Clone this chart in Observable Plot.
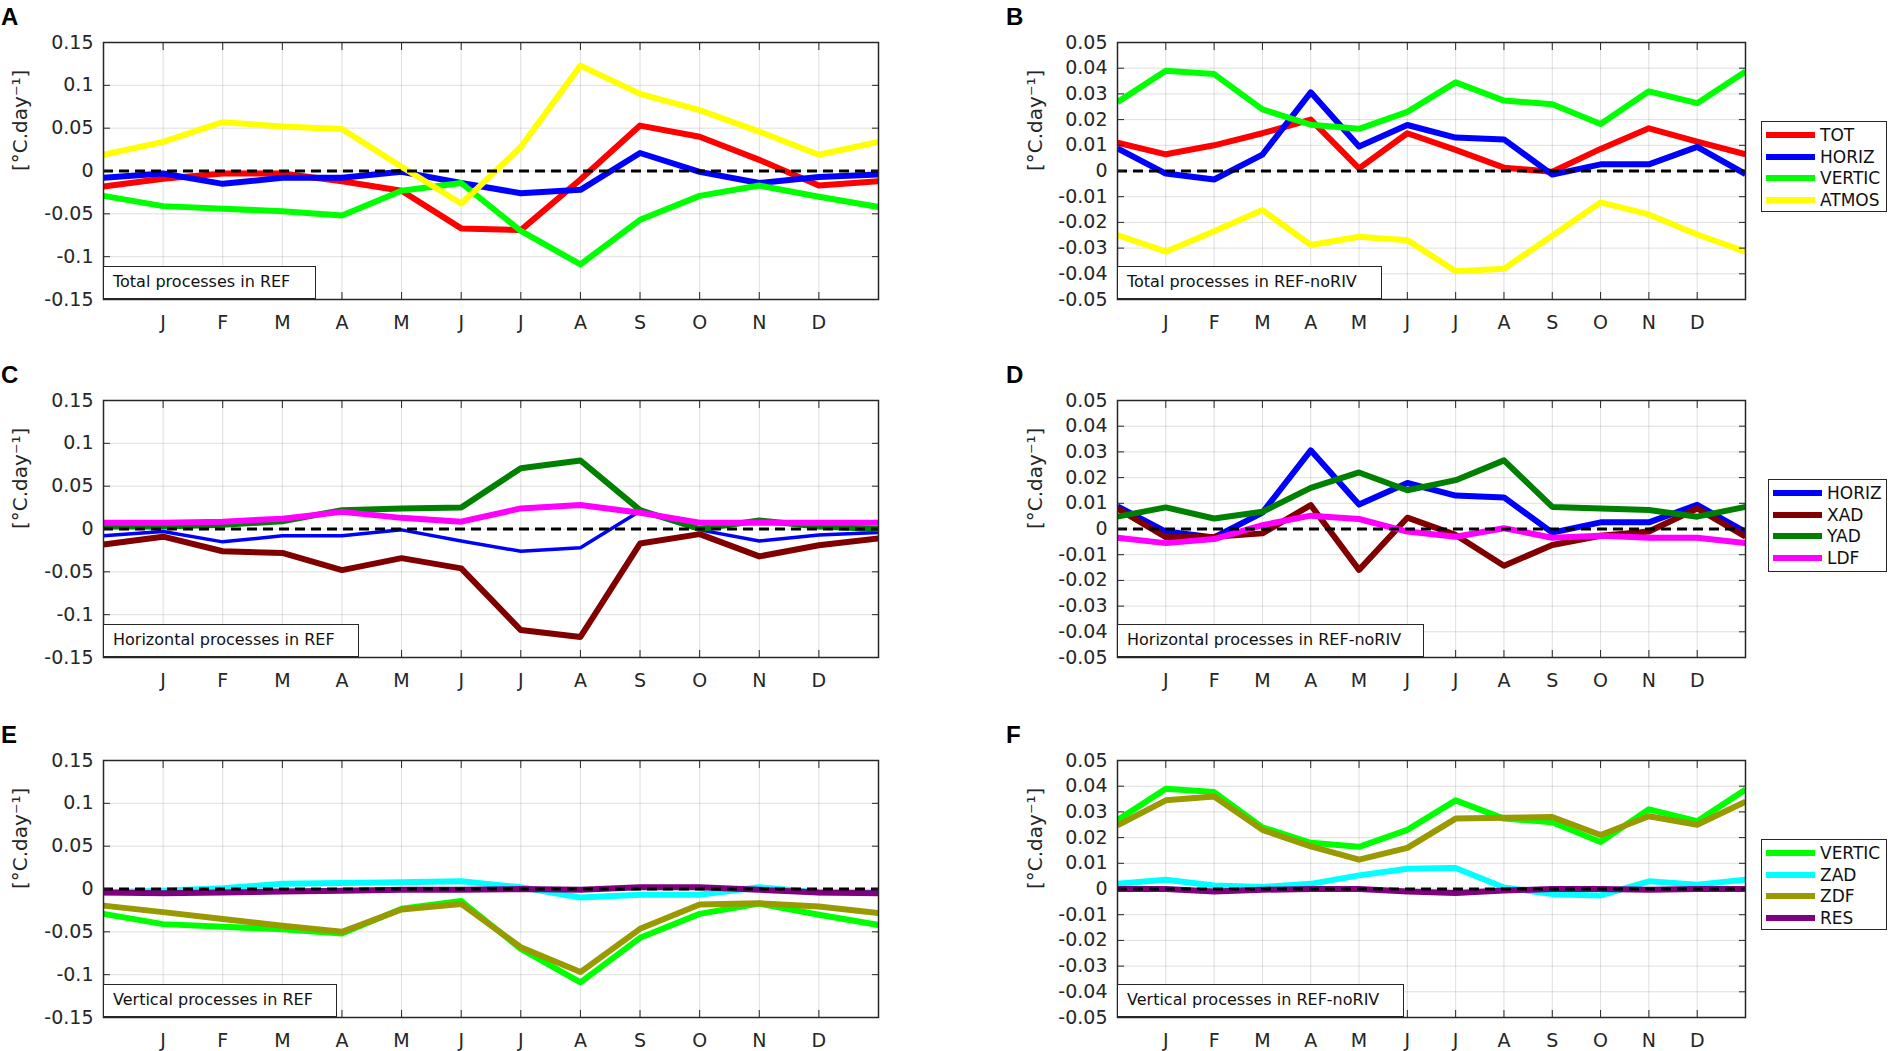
<!DOCTYPE html>
<html><head><meta charset="utf-8">
<script src="https://cdn.jsdelivr.net/npm/d3@7"></script>
<script src="https://cdn.jsdelivr.net/npm/@observablehq/plot@0.6"></script>
<style>
body{margin:0;background:#fff;width:1890px;height:1051px;overflow:hidden;position:relative;font-family:"DejaVu Sans",sans-serif;}
.pan{position:absolute;}
.letter{position:absolute;font:bold 24px "Liberation Sans",Arial,sans-serif;line-height:24px;color:#000;}
.tag{position:absolute;box-sizing:border-box;height:33px;border:1.5px solid #262626;background:#fff;font-size:16px;line-height:30px;padding-left:9px;color:#111;white-space:nowrap;overflow:hidden;}
.legend{position:absolute;box-sizing:border-box;border:1.5px solid #262626;background:#fff;padding:2px 0 0 4px;}
.row{height:21.7px;display:flex;align-items:center;font-size:17px;color:#111;white-space:nowrap;}
.sw{width:49px;height:6px;margin-right:5px;flex:none;}
</style></head><body>
<script>
// ---- axes / categories ----
const xPos = [0, 1, 2, 3, 4, 5, 6, 7, 8, 9, 10, 11, 12, 13];
const monthTicks = [1, 2, 3, 4, 5, 6, 7, 8, 9, 10, 11, 12];
const monthLabels = ["J", "F", "M", "A", "M", "J", "J", "A", "S", "O", "N", "D"];
const yTicksREF = [-0.15, -0.1, -0.05, 0, 0.05, 0.1, 0.15];
const yTicksNoRIV = [-0.05, -0.04, -0.03, -0.02, -0.01, 0, 0.01, 0.02, 0.03, 0.04, 0.05];
const yLabel = "[°C.day⁻¹]";

// ---- REF series ----
const TOT_REF    = [-0.018, -0.009, -0.003, -0.003, -0.012, -0.023, -0.067, -0.069, -0.010, 0.053, 0.040, 0.013, -0.017, -0.012];
const HORIZ_REF  = [-0.008, -0.003, -0.015, -0.008, -0.008, -0.001, -0.014, -0.026, -0.022, 0.021, -0.001, -0.014, -0.007, -0.004];
const VERTIC_REF = [-0.029, -0.041, -0.044, -0.047, -0.052, -0.023, -0.014, -0.070, -0.109, -0.057, -0.029, -0.017, -0.030, -0.042];
const ATMOS_REF  = [0.019, 0.034, 0.057, 0.052, 0.049, 0.005, -0.038, 0.028, 0.123, 0.090, 0.071, 0.046, 0.019, 0.034];
const XAD_REF    = [-0.018, -0.009, -0.026, -0.028, -0.048, -0.034, -0.046, -0.118, -0.126, -0.017, -0.006, -0.032, -0.019, -0.011];
const YAD_REF    = [0.003, 0.003, 0.005, 0.009, 0.022, 0.024, 0.025, 0.071, 0.080, 0.022, 0.000, 0.010, 0.003, 0.000];
const LDF_REF    = [0.0074, 0.0074, 0.0086, 0.012, 0.020, 0.013, 0.0086, 0.024, 0.028, 0.019, 0.0074, 0.0074, 0.0074, 0.0074];
const ZAD_REF    = [-0.004, -0.002, 0.001, 0.006, 0.007, 0.008, 0.009, 0.002, -0.010, -0.0066, -0.0066, 0.002, -0.004, -0.004];
const ZDF_REF    = [-0.0194, -0.027, -0.035, -0.043, -0.050, -0.024, -0.0174, -0.068, -0.097, -0.0465, -0.018, -0.0167, -0.0205, -0.028];
const RES_REF    = [-0.004, -0.005, -0.004, -0.003, -0.002, -0.001, -0.001, 0.000, -0.001, 0.002, 0.002, -0.001, -0.004, -0.005];

// ---- REF-noRIV series ----
const TOT_NR    = [0.011, 0.0065, 0.010, 0.0147, 0.020, 0.001, 0.0147, 0.0082, 0.0013, -0.0003, 0.0086, 0.0166, 0.0114, 0.0065];
const HORIZ_NR  = [0.0088, -0.001, -0.0033, 0.0064, 0.0306, 0.0095, 0.0179, 0.013, 0.0123, -0.0014, 0.0026, 0.0026, 0.0094, -0.0012];
const VERTIC_NR = [0.0268, 0.039, 0.0377, 0.024, 0.018, 0.0164, 0.023, 0.0345, 0.0274, 0.026, 0.0183, 0.031, 0.0264, 0.0387];
const ATMOS_NR  = [-0.0249, -0.0314, -0.0234, -0.0152, -0.0288, -0.0256, -0.0269, -0.039, -0.038, -0.0252, -0.0122, -0.0169, -0.0247, -0.0314];
const XAD_NR    = [0.008, -0.0032, -0.003, -0.0017, 0.0093, -0.0159, 0.0044, -0.0023, -0.0143, -0.0062, -0.0026, -0.001, 0.008, -0.003];
const YAD_NR    = [0.0048, 0.0084, 0.0041, 0.0067, 0.016, 0.022, 0.0151, 0.019, 0.0267, 0.0086, 0.008, 0.0074, 0.0048, 0.0086];
const LDF_NR    = [-0.0034, -0.0055, -0.0039, 0.0015, 0.0052, 0.0039, -0.001, -0.003, 0.0003, -0.0034, -0.0026, -0.0034, -0.0034, -0.0055];
const ZAD_NR    = [0.002, 0.0036, 0.0014, 0.0008, 0.002, 0.0053, 0.0079, 0.0082, 0.0006, -0.002, -0.0025, 0.003, 0.0017, 0.0036];
const ZDF_NR    = [0.0248, 0.0345, 0.036, 0.023, 0.0166, 0.0114, 0.016, 0.0274, 0.0277, 0.028, 0.021, 0.0283, 0.025, 0.034];
const RES_NR    = [0.000, 0.000, -0.001, -0.0003, 0.000, 0.000, -0.001, -0.0016, -0.0006, 0.000, 0.000, -0.0003, 0.000, 0.000];

const colors = {TOT: "#ff0000", HORIZ: "#0000ff", VERTIC: "#00ff00", ATMOS: "#ffff00",
  XAD: "#800000", YAD: "#008000", LDF: "#ff00ff", ZAD: "#00ffff", ZDF: "#999900", RES: "#800080"};

const panels = [
  {letter: "A", col: 0, row: 0, ticks: yTicksREF, tag: "Total processes in REF", tagW: 213,
   series: [["TOT", TOT_REF], ["HORIZ", HORIZ_REF], ["VERTIC", VERTIC_REF], ["ATMOS", ATMOS_REF]]},
  {letter: "B", col: 1, row: 0, ticks: yTicksNoRIV, tag: "Total processes in REF-noRIV", tagW: 265,
   series: [["TOT", TOT_NR], ["HORIZ", HORIZ_NR], ["VERTIC", VERTIC_NR], ["ATMOS", ATMOS_NR]],
   legend: {left: 1761, top: 121, w: 126, h: 91}},
  {letter: "C", col: 0, row: 1, ticks: yTicksREF, tag: "Horizontal processes in REF", tagW: 256,
   series: [["HORIZ", HORIZ_REF, 3.5], ["XAD", XAD_REF], ["YAD", YAD_REF], ["LDF", LDF_REF]]},
  {letter: "D", col: 1, row: 1, ticks: yTicksNoRIV, tag: "Horizontal processes in REF-noRIV", tagW: 307,
   series: [["HORIZ", HORIZ_NR], ["XAD", XAD_NR], ["YAD", YAD_NR], ["LDF", LDF_NR]],
   legend: {left: 1768, top: 479, w: 119, h: 93}},
  {letter: "E", col: 0, row: 2, ticks: yTicksREF, tag: "Vertical processes in REF", tagW: 234,
   series: [["VERTIC", VERTIC_REF], ["ZAD", ZAD_REF], ["ZDF", ZDF_REF], ["RES", RES_REF]]},
  {letter: "F", col: 1, row: 2, ticks: yTicksNoRIV, tag: "Vertical processes in REF-noRIV", tagW: 287,
   series: [["VERTIC", VERTIC_NR], ["ZAD", ZAD_NR], ["ZDF", ZDF_NR], ["RES", RES_NR]],
   legend: {left: 1761, top: 839, w: 126, h: 91}}
];

// ---- layout ----
const colX = [0, 1005], svgW = [890, 750], mL = [103, 112], mR = [12, 10];
const rowY = [0, 358, 718], H = 336, mT = 42, mB = 37;
const ylabDx = [-83, -82];
const ink = "#262626";

for (const p of panels) {
  const c = p.col, r = p.row;
  const marks = [
    Plot.gridX(monthTicks, {stroke: "#000", strokeOpacity: 0.13}),
    Plot.gridY(p.ticks, {stroke: "#000", strokeOpacity: 0.13})
  ];
  for (const [name, vals, sw] of p.series) {
    const rows = xPos.map((x, i) => ({x, v: vals[i]}));
    marks.push(Plot.line(rows, {x: "x", y: "v", stroke: colors[name], strokeWidth: sw || 6,
      strokeLinejoin: "round", strokeLinecap: "butt", clip: true}));
  }
  marks.push(
    Plot.ruleY([0], {stroke: "#000", strokeWidth: 3, strokeDasharray: "10,6"}),
    Plot.axisX({anchor: "bottom", ticks: monthTicks, tickSize: -7, tickPadding: 23,
      tickFormat: d => monthLabels[d - 1], stroke: ink, fill: ink, label: null}),
    Plot.axisX({anchor: "top", ticks: monthTicks, tickSize: -7, tickFormat: () => "", stroke: ink, label: null}),
    Plot.axisY({anchor: "left", ticks: p.ticks, tickSize: -7, tickPadding: 17,
      tickFormat: d => String(d), stroke: ink, fill: ink, label: null}),
    Plot.axisY({anchor: "right", ticks: p.ticks, tickSize: -7, tickFormat: () => "", stroke: ink, label: null}),
    Plot.frame({stroke: ink, strokeWidth: 1.5}),
    Plot.text([yLabel], {frameAnchor: "left", dx: ylabDx[c], rotate: -90, text: d => d,
      fontSize: 20, fill: ink})
  );
  const yDom = [p.ticks[0], p.ticks[p.ticks.length - 1]];
  const svg = Plot.plot({
    width: svgW[c], height: H,
    marginLeft: mL[c], marginRight: mR[c], marginTop: mT, marginBottom: mB,
    style: {fontFamily: "DejaVu Sans", fontSize: "19px", background: "transparent", overflow: "visible"},
    x: {domain: [0, 13]},
    y: {domain: yDom},
    marks
  });
  const wrap = document.createElement("div");
  wrap.className = "pan";
  wrap.style.left = colX[c] + "px";
  wrap.style.top = rowY[r] + "px";
  wrap.appendChild(svg);
  document.body.appendChild(wrap);

  const L = document.createElement("div");
  L.className = "letter";
  L.textContent = p.letter;
  L.style.left = (colX[c] + 1) + "px";
  L.style.top = (rowY[r] + 5) + "px";
  document.body.appendChild(L);

  const frameLeft = colX[c] + mL[c];
  const frameBottom = rowY[r] + mT + (H - mT - mB);
  const T = document.createElement("div");
  T.className = "tag";
  T.textContent = p.tag;
  T.style.left = frameLeft + "px";
  T.style.top = (frameBottom - 33) + "px";
  T.style.width = p.tagW + "px";
  document.body.appendChild(T);

  if (p.legend) {
    const g = document.createElement("div");
    g.className = "legend";
    Object.assign(g.style, {left: p.legend.left + "px", top: p.legend.top + "px",
      width: p.legend.w + "px", height: p.legend.h + "px"});
    for (const [name] of p.series) {
      const row = document.createElement("div");
      row.className = "row";
      const sw = document.createElement("div");
      sw.className = "sw";
      sw.style.background = colors[name];
      row.appendChild(sw);
      row.appendChild(document.createTextNode(name));
      g.appendChild(row);
    }
    document.body.appendChild(g);
  }
}
</script>
</body></html>
